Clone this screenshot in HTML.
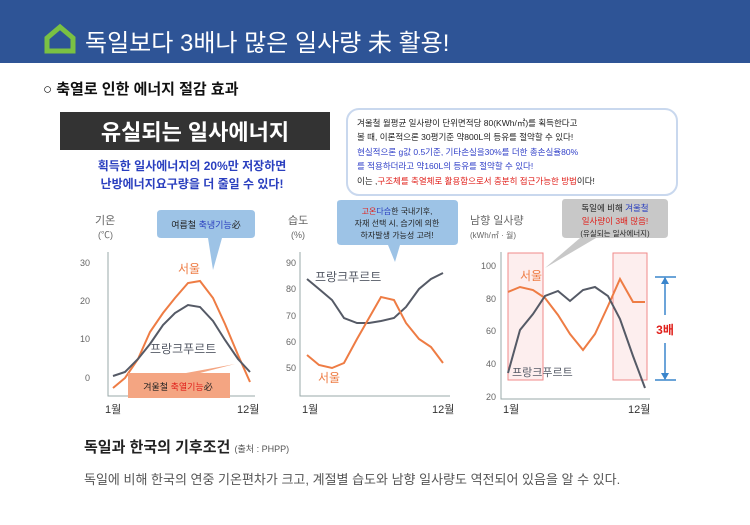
<!DOCTYPE html>
<html><head><meta charset="utf-8"><style>
body{margin:0;width:750px;height:520px;overflow:hidden;background:#fff;font-family:"Liberation Sans","Noto Sans CJK KR",sans-serif}
</style></head><body>
<svg width="750" height="520" xmlns="http://www.w3.org/2000/svg" font-family="Liberation Sans, Noto Sans CJK KR, sans-serif">
<rect x="0" y="0" width="750" height="63" fill="#2e5496"/>
<path d="M47 38 L60 27 L73 38 L73 51 L47 51 Z" fill="none" stroke="#7ac143" stroke-width="5"/>
<text x="85" y="51" font-size="24" fill="#fff">독일보다 3배나 많은 일사량 未 활용!</text>
<text x="43" y="94" font-size="15" font-weight="bold" fill="#111">○ 축열로 인한 에너지 절감 효과</text>
<rect x="60" y="112" width="270" height="38" fill="#333"/>
<text x="195" y="140" font-size="22" fill="#fff" text-anchor="middle" font-weight="bold">유실되는 일사에너지</text>
<text x="192" y="170" font-size="12" fill="#2a3fbf" font-weight="bold" text-anchor="middle">획득한 일사에너지의 20%만 저장하면</text>
<text x="192" y="188" font-size="12" fill="#2a3fbf" font-weight="bold" text-anchor="middle">난방에너지요구량을 더 줄일 수 있다!</text>
<rect x="347" y="109" width="330" height="86" rx="12" fill="#fff" stroke="#c9d8ee" stroke-width="2"/>
<g font-size="8.5">
<text x="357" y="126" fill="#222">겨울철 월평균 일사량이 단위면적당 80(KWh/㎡)를 획득한다고</text>
<text x="357" y="140" fill="#222">볼 때, 이론적으론 30평기준 약800L의 등유를 절약할 수 있다!</text>
<text x="357" y="155" fill="#3140c8">현실적으론 g값 0.5기준, 기타손실을30%를 더한 총손실율80%</text>
<text x="357" y="169" fill="#3140c8">를 적용하더라고 약160L의 등유를 절약할 수 있다!</text>
<text x="357" y="184" fill="#222">이는 ,<tspan fill="#e0201b">구조체를 축열체로 활용함으로서 충분히 접근가능한 방법</tspan>이다!</text>
</g>
<!-- chart 1 -->
<g font-size="9" fill="#666">
<text x="95" y="224" font-size="11">기온</text><text x="98" y="238">(℃)</text>
<text x="90" y="266" text-anchor="end">30</text><text x="90" y="304" text-anchor="end">20</text><text x="90" y="342" text-anchor="end">10</text><text x="90" y="381" text-anchor="end">0</text>
<text x="105" y="413" font-size="11" fill="#333">1월</text><text x="237" y="413" font-size="11" fill="#333">12월</text>
</g>
<path d="M108 252 V396 H255" fill="none" stroke="#9aa" stroke-width="1"/>
<polyline fill="none" stroke="#ee7c44" stroke-width="2" points="113,388 125,378 138,359 150,332 163,313 175,298 188,283 200,281 213,298 225,324 238,355 250,382"/>
<polyline fill="none" stroke="#555a66" stroke-width="2" points="113,376 125,372 138,359 150,344 163,325 175,313 188,305 200,307 213,321 225,340 238,359 250,372"/>
<text x="178" y="273" font-size="12" fill="#ee7c44">서울</text>
<text x="150" y="353" font-size="12" fill="#555a66">프랑크푸르트</text>
<path d="M161 210 H251 Q255 210 255 214 V234 Q255 238 251 238 H222 L213 270 L208 238 H161 Q157 238 157 234 V214 Q157 210 161 210 Z" fill="#9dc3e6"/>
<text x="206" y="228" font-size="9" text-anchor="middle" fill="#222">여름철 <tspan fill="#2a3fbf">축냉기능</tspan>必</text>
<path d="M128 373 H186 L235 364 L200 373 H230 V398 H128 Z" fill="#f4a582"/>
<text x="178" y="390" font-size="9" text-anchor="middle" fill="#222">겨울철 <tspan fill="#e0201b">축열기능</tspan>必</text>
<!-- chart 2 -->
<g font-size="9" fill="#666">
<text x="288" y="224" font-size="11">습도</text><text x="291" y="238">(%)</text>
<text x="296" y="266" text-anchor="end">90</text><text x="296" y="292" text-anchor="end">80</text><text x="296" y="319" text-anchor="end">70</text><text x="296" y="345" text-anchor="end">60</text><text x="296" y="371" text-anchor="end">50</text>
<text x="302" y="413" font-size="11" fill="#333">1월</text><text x="432" y="413" font-size="11" fill="#333">12월</text>
</g>
<path d="M300 252 V396 H450" fill="none" stroke="#9aa" stroke-width="1"/>
<polyline fill="none" stroke="#555a66" stroke-width="2" points="307,279 319,289 332,300 344,318 357,323 369,323 381,321 394,318 406,307 419,289 431,279 443,273"/>
<polyline fill="none" stroke="#ee7c44" stroke-width="2" points="307,355 319,365 332,368 344,363 357,339 369,318 381,297 394,300 406,323 419,339 431,347 443,363"/>
<text x="315" y="281" font-size="12" fill="#555a66">프랑크푸르트</text>
<text x="318" y="382" font-size="12" fill="#ee7c44">서울</text>
<path d="M337 203 Q337 200 341 200 H454 Q458 200 458 204 V241 Q458 245 454 245 H400 L395 262 L388 245 H341 Q337 245 337 241 Z" fill="#9dc3e6"/>
<g font-size="8" fill="#222" text-anchor="middle">
<text x="397" y="214"><tspan fill="#e0201b">고온</tspan><tspan fill="#2a3fbf">다습</tspan>한 국내기후,</text>
<text x="397" y="226">자재 선택 시, 습기에 의한</text>
<text x="397" y="238">하자발생 가능성 고려!</text>
</g>
<!-- chart 3 -->
<g font-size="9" fill="#666">
<text x="470" y="224" font-size="11">남향 일사량</text><text x="470" y="238" font-size="8">(kWh/㎡ · 월)</text>
<text x="496" y="269" text-anchor="end">100</text><text x="496" y="302" text-anchor="end">80</text><text x="496" y="334" text-anchor="end">60</text><text x="496" y="367" text-anchor="end">40</text><text x="496" y="400" text-anchor="end">20</text>
<text x="503" y="413" font-size="11" fill="#333">1월</text><text x="628" y="413" font-size="11" fill="#333">12월</text>
</g>
<path d="M501 252 V399 H650" fill="none" stroke="#9aa" stroke-width="1"/>
<rect x="508" y="253" width="35" height="127" fill="#fbe3e3" fill-opacity="0.6" stroke="#f08a8a"/>
<rect x="613" y="253" width="34" height="127" fill="#fbe3e3" fill-opacity="0.6" stroke="#f08a8a"/>
<polyline fill="none" stroke="#ee7c44" stroke-width="2" points="508,292 520,287 533,290 545,298 558,315 570,334 583,350 595,334 608,306 620,279 633,302 645,302"/>
<polyline fill="none" stroke="#555a66" stroke-width="2" points="508,373 520,330 533,314 545,296 558,291 570,301 583,290 595,287 608,296 620,319 633,356 645,388"/>
<text x="520" y="280" font-size="12" fill="#ee7c44">서울</text>
<text x="512" y="376" font-size="11" fill="#555a66">프랑크푸르트</text>
<path d="M565 199 Q562 199 562 203 V234 Q562 238 566 238 H580 L545 268 L596 238 H664 Q668 238 668 234 V203 Q668 199 664 199 Z" fill="#c8c8c8"/>
<g font-size="8.5" text-anchor="middle" fill="#222">
<text x="615" y="211">독일에 비해 <tspan fill="#2a3fbf">겨울철</tspan></text>
<text x="615" y="224" fill="#e0201b">일사량이 3배 많음!</text>
<text x="615" y="236" font-size="7.5">(유실되는 일사에너지)</text>
</g>
<g stroke="#3a85cc" stroke-width="1.5"><line x1="655" y1="277" x2="676" y2="277"/><line x1="655" y1="380" x2="676" y2="380"/><line x1="665" y1="278" x2="665" y2="315"/><line x1="665" y1="343" x2="665" y2="379"/></g>
<path d="M661 284 L665 277 L669 284 Z M661 373 L665 380 L669 373 Z" fill="#3a85cc"/>
<text x="665" y="334" font-size="12" font-weight="bold" fill="#e0201b" text-anchor="middle">3배</text>
<text x="84" y="452" font-size="15" font-weight="bold" fill="#222">독일과 한국의 기후조건 <tspan font-size="9" font-weight="normal" fill="#555">(출처 : PHPP)</tspan></text>
<text x="84" y="484" font-size="13" fill="#555">독일에 비해 한국의 연중 기온편차가 크고, 계절별 습도와 남향 일사량도 역전되어 있음을 알 수 있다.</text>
</svg>
</body></html>
